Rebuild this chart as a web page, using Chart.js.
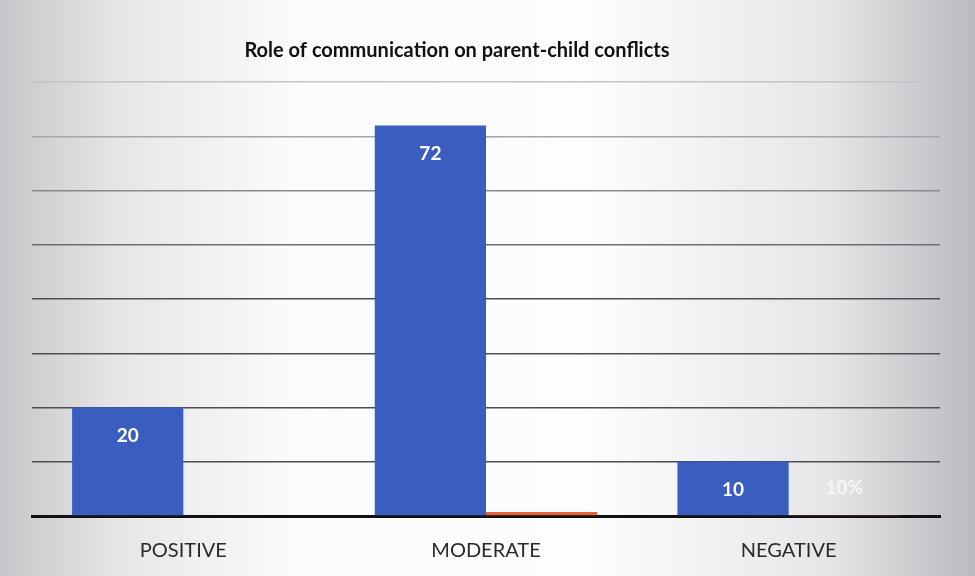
<!DOCTYPE html>
<html>
<head>
<meta charset="utf-8">
<script src="https://cdn.jsdelivr.net/npm/chart.js@4/dist/chart.umd.min.js"></script>
<style>
  html, body { margin: 0; padding: 0; background: #fff; }
  #wrap { width: 975px; height: 576px; position: relative; }
</style>
</head>
<body>
<div id="wrap"><canvas id="conflictChart"></canvas></div>
<script>
// Responses per category
const categories = ['POSITIVE', 'MODERATE', 'NEGATIVE'];
const countValues = [20, 72, 10];
// Share of responses (fraction); only the last one carries a label
const pctValues = [null, 0.72, 0.1];
const pctLabels = ['', '', '10%'];
const yTicks = [0, 10, 20, 30, 40, 50, 60, 70, 80];
const chartTitle = 'Role of communication on parent-child conflicts';

// Greyish paper tone along the edges
const paperBackground = {
    id: 'paperBackground',
    beforeDraw(chart) {
        const { ctx, width, height } = chart;
        const g = ctx.createLinearGradient(0, 0, width, 0);
        g.addColorStop(0, '#c6c6ca');
        g.addColorStop(0.12, '#e6e6e8');
        g.addColorStop(0.3, '#fbfbfb');
        g.addColorStop(0.6, '#fdfdfd');
        g.addColorStop(0.85, '#e6e6e9');
        g.addColorStop(1, '#bbbbbf');
        ctx.save();
        ctx.fillStyle = g;
        ctx.fillRect(0, 0, width, height);
        ctx.restore();
    }
};

// Title sits a little left of the plot centre
const titleText = {
    id: 'titleText',
    afterDraw(chart) {
        const { ctx } = chart;
        ctx.save();
        ctx.fillStyle = '#111111';
        ctx.font = 'bold 20px Lato, "Open Sans", sans-serif';
        ctx.textAlign = 'center';
        ctx.textBaseline = 'middle';
        ctx.fillText(chartTitle, 457, 51);
        ctx.restore();
    }
};

// Value labels inside the bars
const barLabels = {
    id: 'barLabels',
    afterDatasetsDraw(chart) {
        const { ctx } = chart;
        ctx.save();
        ctx.textAlign = 'center';
        ctx.textBaseline = 'middle';
        ctx.font = 'bold 19px Lato, "Open Sans", sans-serif';

        chart.getDatasetMeta(0).data.forEach((bar, i) => {
            ctx.fillStyle = '#ffffff';
            ctx.fillText(String(countValues[i]), bar.x, bar.y + 28);
        });
        chart.getDatasetMeta(1).data.forEach((bar, i) => {
            if (!pctLabels[i]) return;
            ctx.fillStyle = 'rgba(248, 248, 250, 0.9)';
            ctx.fillText(pctLabels[i], bar.x, bar.base - 27);
        });
        ctx.restore();
    }
};

// Upper grid lines fade out like on the printed page
function gridColor(context) {
    const v = context.tick ? context.tick.value : 0;
    if (v >= 80) return '#c4c4c8';
    if (v >= 70) return '#a6a6aa';
    if (v >= 60) return '#8a8a8e';
    if (v >= 50) return '#6e6e72';
    return '#4e4e52';
}

const ctx = document.getElementById('conflictChart').getContext('2d');
const conflictChart = new Chart(ctx, {
    type: 'bar',
    data: {
        labels: categories,
        datasets: [
            {
                label: 'Respondents',
                data: countValues,
                backgroundColor: '#3a5dc0',
                borderWidth: 0
            },
            {
                label: 'Percentage',
                data: pctValues,
                backgroundColor: '#e2643c',
                borderWidth: 0
            }
        ]
    },
    options: {
        responsive: true,
        maintainAspectRatio: false,
        animation: false,
        datasets: {
            bar: {
                categoryPercentage: 0.735,
                barPercentage: 1.0
            }
        },
        layout: {
            padding: { left: 32, right: 35, top: 82, bottom: -2 }
        },
        scales: {
            x: {
                grid: { display: false },
                border: { display: true, color: '#111111', width: 3 },
                ticks: {
                    color: '#2a2a2a',
                    padding: 15,
                    font: { family: 'Lato, "Open Sans", sans-serif', size: 20 }
                }
            },
            y: {
                min: 0,
                max: 80,
                afterBuildTicks(axis) {
                    axis.ticks = yTicks.map(v => ({ value: v }));
                },
                ticks: { display: false },
                border: { display: false },
                grid: {
                    drawTicks: false,
                    color: gridColor,
                    lineWidth: 1.4
                }
            }
        },
        plugins: {
            legend: { display: false },
            tooltip: { enabled: false },
            title: { display: false }
        }
    },
    plugins: [paperBackground, barLabels, titleText]
});
</script>
</body>
</html>
